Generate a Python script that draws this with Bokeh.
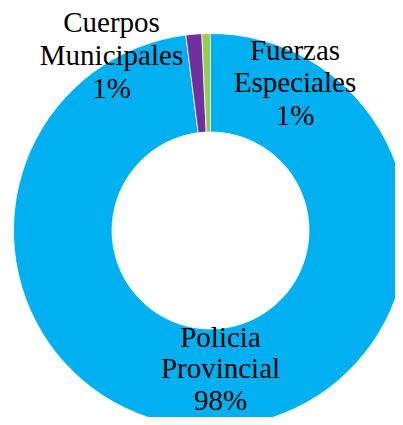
import math
from bokeh.plotting import figure
from bokeh.models import Range1d, ColumnDataSource
from bokeh.core.properties import value
from bokeh.embed import file_html
from bokeh.resources import INLINE

# ---- data ----
categories = ["Policia Provincial", "Cuerpos Municipales", "Fuerzas Especiales"]
values = [98.0, 1.3, 0.7]
colors = ["#00B0F0", "#7030A0", "#92D050"]

# ---- layout ----
W, H = 395, 417
CX_PX, CY_PX = 210, 230          # donut centre in picture pixels
R_OUT, R_IN = 197, 98.5
BASE_FIX = 11                    # renderer draws baselines this much lower
label_anchor = [(220, 347, 31.5), (111, 32, 33), (294.5, 60, 32.5)]  # centre x, first baseline, line step
FONT = "Liberation Serif"
FSIZE = "29px"

total = sum(values)
starts, ends = [], []
cum = 0.0
for v in values:
    starts.append(math.pi / 2 - 2 * math.pi * cum / total)
    cum += v
    ends.append(math.pi / 2 - 2 * math.pi * cum / total)

src = ColumnDataSource(dict(x=[0] * len(values), y=[0] * len(values),
                            start=starts, end=ends, color=colors))

p = figure(width=W, height=H, output_backend="svg", toolbar_location=None,
           x_range=Range1d(-CX_PX, W - CX_PX), y_range=Range1d(CY_PX - H, CY_PX),
           min_border=0, outline_line_color=None)
p.xaxis.visible = False
p.yaxis.visible = False
p.grid.visible = False
p.background_fill_color = "white"
p.border_fill_color = "white"

p.annular_wedge(x="x", y="y", inner_radius=R_IN, outer_radius=R_OUT,
                start_angle="start", end_angle="end", direction="clock",
                fill_color="color", line_color="white", line_width=0.75, source=src)

tx, ty, tt = [], [], []
for name, v, (ax, ay, step) in zip(categories, values, label_anchor):
    lines = name.split(" ") + [f"{round(v / total * 100)}%"]
    for i, ln in enumerate(lines):
        tx.append(ax - CX_PX)
        ty.append(CY_PX - (ay - BASE_FIX + i * step))
        tt.append(ln)

p.text(x=tx, y=ty, text=tt, text_align="center", text_baseline="alphabetic",
       text_font=value(FONT), text_font_size=FSIZE, text_color="black")

open("out.html", "w").write(file_html(p, INLINE))
